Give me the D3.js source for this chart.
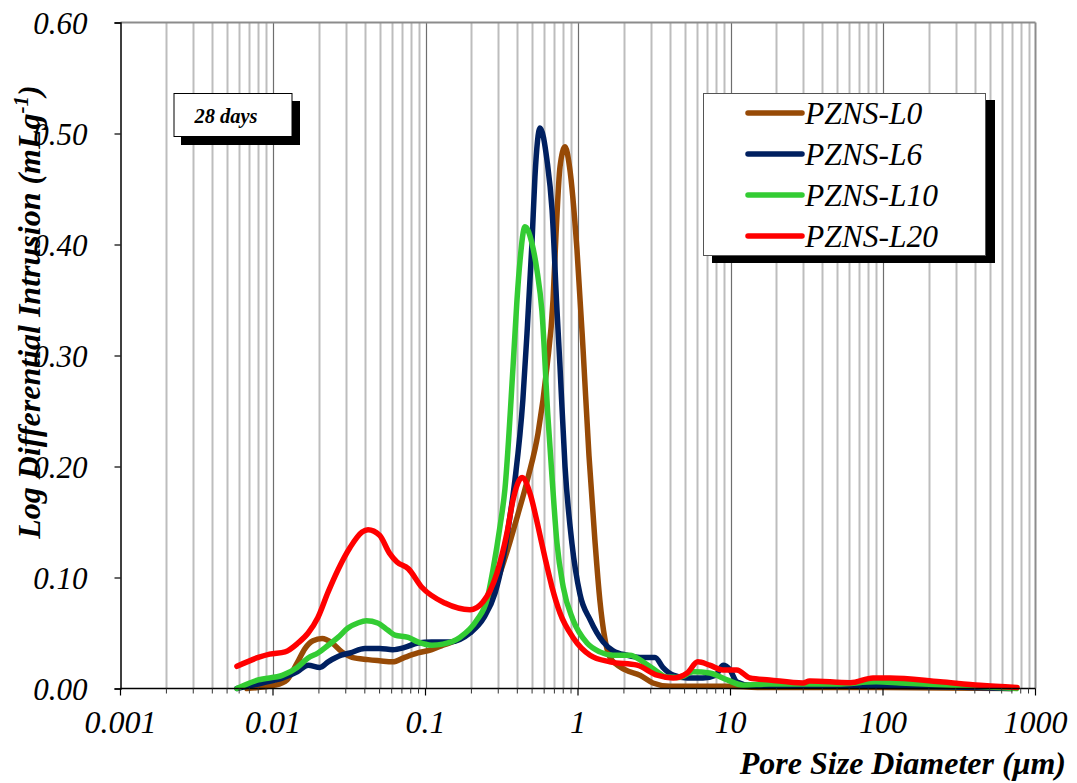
<!DOCTYPE html>
<html>
<head>
<meta charset="utf-8">
<script src="https://cdn.jsdelivr.net/npm/d3@7"></script>
<style>
  html, body { margin: 0; padding: 0; background: #fff; }
  svg { display: block; }
  text { font-family: "Liberation Serif", "Times New Roman", serif; font-style: italic; }
</style>
</head>
<body>
<svg id="chart" width="1077" height="783"></svg>
<script>
// ----- data (pore diameter in µm, log differential intrusion in mL/g) -----
const seriesNames = ['PZNS-L0', 'PZNS-L6', 'PZNS-L10', 'PZNS-L20'];
const seriesColors = ['#974A06', '#002060', '#33CC33', '#FF0000'];

const L0 = [
  [0.00675, 0.000], [0.0103, 0.003], [0.0124, 0.008], [0.0144, 0.023], [0.0162, 0.036],
  [0.0183, 0.043], [0.021, 0.045], [0.0244, 0.041], [0.0283, 0.033], [0.033, 0.028],
  [0.042, 0.026], [0.050, 0.025], [0.061, 0.024], [0.073, 0.028], [0.089, 0.032],
  [0.11, 0.035], [0.13, 0.039], [0.168, 0.045], [0.218, 0.059], [0.265, 0.080],
  [0.308, 0.104], [0.358, 0.132], [0.40, 0.155], [0.47, 0.190], [0.547, 0.230],
  [0.626, 0.290], [0.686, 0.350], [0.718, 0.410], [0.762, 0.470], [0.822, 0.488],
  [0.88, 0.470], [0.985, 0.395], [1.08, 0.305], [1.18, 0.210], [1.29, 0.134],
  [1.39, 0.080], [1.50, 0.045], [1.62, 0.028], [2.03, 0.017], [2.55, 0.012],
  [3.1, 0.005], [4.0, 0.002], [6.0, 0.002], [9.9, 0.002], [15, 0.001],
  [100, 0.001], [700, 0.000]
];

const L6 = [
  [0.0058, 0.000], [0.0085, 0.005], [0.0116, 0.0095], [0.0144, 0.015], [0.017, 0.021],
  [0.0203, 0.019], [0.023, 0.024], [0.028, 0.030], [0.032, 0.032], [0.040, 0.036],
  [0.050, 0.036], [0.061, 0.035], [0.073, 0.037], [0.089, 0.041], [0.11, 0.042],
  [0.145, 0.042], [0.196, 0.050], [0.242, 0.064], [0.286, 0.086], [0.322, 0.116],
  [0.358, 0.155], [0.386, 0.188], [0.435, 0.260], [0.463, 0.320], [0.499, 0.401],
  [0.522, 0.461], [0.564, 0.505], [0.626, 0.476], [0.676, 0.431], [0.728, 0.341],
  [0.762, 0.290], [0.822, 0.200], [0.914, 0.130], [1.03, 0.085], [1.2, 0.062],
  [1.46, 0.042], [1.7, 0.034], [2.09, 0.030], [2.55, 0.028], [3.2, 0.028],
  [3.6, 0.019], [4.2, 0.012], [5.2, 0.0095], [6.6, 0.0095], [8.0, 0.012],
  [8.93, 0.021], [9.9, 0.017], [11, 0.006], [13.4, 0.003], [30, 0.002],
  [100, 0.002], [700, 0.000]
];

const L10 = [
  [0.0058, 0.000], [0.008, 0.0077], [0.0116, 0.012], [0.0144, 0.019], [0.017, 0.0275],
  [0.0197, 0.032], [0.023, 0.039], [0.0267, 0.046], [0.031, 0.0545], [0.036, 0.059],
  [0.041, 0.061], [0.0485, 0.059], [0.0565, 0.0527], [0.063, 0.048], [0.077, 0.046],
  [0.089, 0.042], [0.11, 0.039], [0.13, 0.040], [0.168, 0.046], [0.218, 0.062],
  [0.253, 0.080], [0.277, 0.107], [0.308, 0.146], [0.332, 0.180], [0.375, 0.290],
  [0.398, 0.350], [0.417, 0.386], [0.449, 0.416], [0.499, 0.401], [0.538, 0.377],
  [0.58, 0.340], [0.635, 0.245], [0.676, 0.190], [0.728, 0.131], [0.80, 0.0915],
  [0.927, 0.062], [1.146, 0.041], [1.39, 0.033], [1.7, 0.030], [2.19, 0.030],
  [2.67, 0.024], [3.2, 0.0167], [3.8, 0.0104], [4.6, 0.010], [5.7, 0.015],
  [7.3, 0.014], [9.5, 0.0077], [12.1, 0.003], [18, 0.004], [50, 0.004],
  [90, 0.006], [130, 0.005], [400, 0.002], [750, 0.000]
];

const L20 = [
  [0.0058, 0.020], [0.008, 0.028], [0.0095, 0.031], [0.012, 0.033], [0.0146, 0.041],
  [0.017, 0.050], [0.0197, 0.064], [0.023, 0.087], [0.0267, 0.107], [0.032, 0.127],
  [0.0384, 0.141], [0.042, 0.143], [0.050, 0.138], [0.058, 0.122], [0.065, 0.114],
  [0.077, 0.108], [0.095, 0.091], [0.134, 0.077], [0.196, 0.071], [0.238, 0.078],
  [0.294, 0.104], [0.342, 0.140], [0.375, 0.170], [0.43, 0.190], [0.484, 0.176],
  [0.547, 0.146], [0.607, 0.118], [0.675, 0.0915], [0.762, 0.068], [0.927, 0.046],
  [1.2, 0.030], [1.62, 0.024], [2.44, 0.021], [3.3, 0.012], [4.2, 0.0095],
  [5.2, 0.014], [6.1, 0.024], [7.3, 0.021], [8.9, 0.0167], [11, 0.0167],
  [13.4, 0.0095], [18, 0.0077], [29.9, 0.005], [33, 0.0068], [61, 0.0052],
  [86, 0.0095], [111, 0.0095], [237, 0.006], [433, 0.003], [757, 0.001]
];

const allSeries = [L0, L6, L10, L20];

const xTicks = [0.001, 0.01, 0.1, 1, 10, 100, 1000];
const xTickLabels = ['0.001', '0.01', '0.1', '1', '10', '100', '1000'];
const yTicks = [0, 0.1, 0.2, 0.3, 0.4, 0.5, 0.6];

// ----- layout -----
const plot = { left: 120.5, right: 1035.5, top: 22.5, bottom: 688.5 };

const svg = d3.select('#chart');

const x = d3.scaleLog().domain([0.001, 1000]).range([plot.left, plot.right]);
const y = d3.scaleLinear().domain([0, 0.6]).range([plot.bottom, plot.top]);

// minor values (2..9 per decade) for grid and small ticks
const minorVals = [];
for (let e = -3; e < 3; e++) {
  for (let m = 2; m <= 9; m++) minorVals.push(m * Math.pow(10, e));
}

// vertical grid
svg.append('g')
  .selectAll('line')
  .data(minorVals)
  .join('line')
  .attr('x1', d => Math.round(x(d)) + 0.5).attr('x2', d => Math.round(x(d)) + 0.5)
  .attr('y1', plot.top).attr('y2', plot.bottom)
  .attr('stroke', '#BDBDBD').attr('stroke-width', 2);

svg.append('g')
  .selectAll('line')
  .data(xTicks.slice(1, -1))
  .join('line')
  .attr('x1', d => Math.round(x(d)) + 0.5).attr('x2', d => Math.round(x(d)) + 0.5)
  .attr('y1', plot.top).attr('y2', plot.bottom)
  .attr('stroke', '#6E6E6E').attr('stroke-width', 1.2);

// plot frame (top + right in gray)
svg.append('line')
  .attr('x1', plot.left).attr('x2', plot.right).attr('y1', plot.top).attr('y2', plot.top)
  .attr('stroke', '#8C8C8C').attr('stroke-width', 2);
svg.append('line')
  .attr('x1', plot.right).attr('x2', plot.right).attr('y1', plot.top).attr('y2', plot.bottom)
  .attr('stroke', '#8C8C8C').attr('stroke-width', 2);

// ----- series -----
const line = d3.line()
  .x(d => x(d[0]))
  .y(d => y(d[1]))
  .curve(d3.curveMonotoneX);

svg.append('g')
  .selectAll('path')
  .data(allSeries)
  .join('path')
  .attr('d', line)
  .attr('fill', 'none')
  .attr('stroke', (d, i) => seriesColors[i])
  .attr('stroke-width', 5.5)
  .attr('stroke-linejoin', 'round')
  .attr('stroke-linecap', 'round');

// ----- axes -----
// x axis: major ticks with labels, minor ticks without
const xAxisG = svg.append('g').attr('transform', `translate(0,${plot.bottom})`);
xAxisG.append('line')
  .attr('x1', plot.left).attr('x2', plot.right)
  .attr('stroke', '#000').attr('stroke-width', 1.5);
xAxisG.selectAll('line.minor')
  .data(minorVals)
  .join('line')
  .attr('class', 'minor')
  .attr('x1', d => x(d)).attr('x2', d => x(d))
  .attr('y1', 0).attr('y2', 5)
  .attr('stroke', '#333').attr('stroke-width', 1);
xAxisG.selectAll('line.major')
  .data(xTicks)
  .join('line')
  .attr('class', 'major')
  .attr('x1', d => x(d)).attr('x2', d => x(d))
  .attr('y1', 0).attr('y2', 7)
  .attr('stroke', '#000').attr('stroke-width', 1.2);
xAxisG.selectAll('text')
  .data(xTicks)
  .join('text')
  .attr('x', d => x(d))
  .attr('y', 44)
  .attr('text-anchor', 'middle')
  .attr('font-size', 32)
  .text((d, i) => xTickLabels[i]);

// y axis
const yAxis = d3.axisLeft(y)
  .tickValues(yTicks)
  .tickSize(6)
  .tickPadding(27)
  .tickFormat(d3.format('.2f'));
const yAxisG = svg.append('g')
  .attr('transform', `translate(${plot.left},0)`)
  .call(yAxis);
yAxisG.select('.domain').attr('stroke', '#000').attr('stroke-width', 1.5);
yAxisG.selectAll('.tick line').attr('stroke', '#000').attr('stroke-width', 1.2);
yAxisG.selectAll('.tick text')
  .attr('font-size', 31)
  .attr('font-family', '"Liberation Serif", serif')
  .attr('font-style', 'italic')
  .attr('fill', '#000')
  .attr('dy', '0.34em');

// axis titles
const yTitle = svg.append('text')
  .attr('transform', 'translate(40,312) rotate(-90)')
  .attr('text-anchor', 'middle')
  .attr('font-size', 32)
  .attr('font-weight', 'bold');
yTitle.append('tspan').text('Log Differential Intrusion (mLg');
yTitle.append('tspan').attr('baseline-shift', 'super').attr('font-size', 21).text('-1');
yTitle.append('tspan').text(')');

svg.append('text')
  .attr('x', 1066)
  .attr('y', 774)
  .attr('text-anchor', 'end')
  .attr('font-size', 32)
  .attr('font-weight', 'bold')
  .text('Pore Size Diameter (\u03BCm)');

// ----- "28 days" label box -----
svg.append('rect')
  .attr('x', 181).attr('y', 101).attr('width', 119).attr('height', 44)
  .attr('fill', '#000');
svg.append('rect')
  .attr('x', 174).attr('y', 93.5).attr('width', 118).attr('height', 43)
  .attr('fill', '#fff').attr('stroke', '#000').attr('stroke-width', 1);
svg.append('text')
  .attr('x', 226).attr('y', 123)
  .attr('text-anchor', 'middle')
  .attr('font-size', 20.5)
  .attr('font-weight', 'bold')
  .text('28 days');

// ----- legend -----
const legend = svg.append('g');
legend.append('rect')
  .attr('x', 712).attr('y', 100).attr('width', 283).attr('height', 163)
  .attr('fill', '#000');
legend.append('rect')
  .attr('x', 703.5).attr('y', 93.5).attr('width', 282).attr('height', 162)
  .attr('fill', '#fff').attr('stroke', '#555').attr('stroke-width', 1);

const legendRows = legend.selectAll('g.row')
  .data(seriesNames)
  .join('g')
  .attr('class', 'row')
  .attr('transform', (d, i) => `translate(0,${113 + i * 41})`);
legendRows.append('line')
  .attr('x1', 748).attr('x2', 802)
  .attr('stroke', (d, i) => seriesColors[i])
  .attr('stroke-width', 5.5)
  .attr('stroke-linecap', 'round');
legendRows.append('text')
  .attr('x', 805)
  .attr('y', 11)
  .attr('font-size', 31.5)
  .text(d => d);
</script>
</body>
</html>
